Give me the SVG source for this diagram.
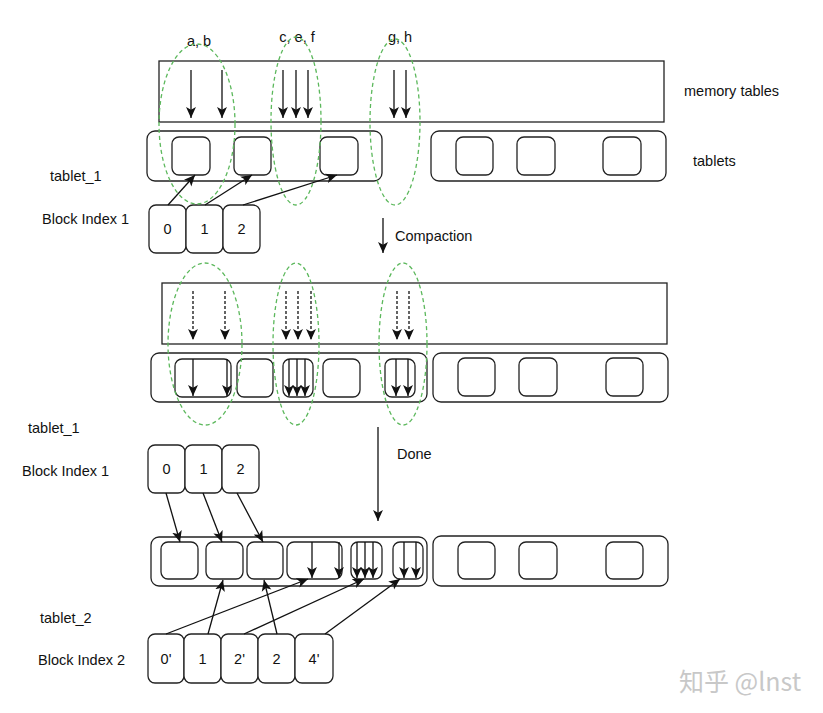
<svg xmlns="http://www.w3.org/2000/svg" width="823" height="713" viewBox="0 0 823 713">
<defs>
<style>
text{font-family:"Liberation Sans",Arial,sans-serif;font-size:14.5px;fill:#111}
.c{text-anchor:middle}
.box{fill:#fff;stroke:#222;stroke-width:1.3}
.bg{fill:none;stroke:#222;stroke-width:1.3}
.ell{fill:none;stroke:#5cb85c;stroke-width:1.3;stroke-dasharray:4 3}
.ar{stroke:#111;stroke-width:1.3;fill:none;marker-end:url(#ah)}
.ard{stroke:#111;stroke-width:1.3;fill:none;stroke-dasharray:3 2;marker-end:url(#ah)}
</style>
<marker id="ah" viewBox="0 0 10 10" refX="10" refY="5" markerWidth="11" markerHeight="11" markerUnits="userSpaceOnUse" orient="auto">
<path d="M0,0.5 L10,5 L0,9.5 L2.5,5 z" fill="#111"/>
</marker>
</defs>
<rect width="823" height="713" fill="#fff"/>

<!-- Section 1 -->
<g id="memtable1"><rect class="bg" x="159" y="61" width="505" height="61"/></g>
<g id="tablet1a">
<rect class="bg" x="147" y="131" width="235" height="50" rx="8"/>
<rect class="box" x="172" y="137" width="38" height="38" rx="7"/>
<rect class="box" x="234" y="137" width="37" height="38" rx="7"/>
<rect class="box" x="320" y="137" width="38" height="38" rx="7"/>
</g>
<g id="tablet1b">
<rect class="bg" x="431" y="131" width="235" height="50" rx="8"/>
<rect class="box" x="456" y="137" width="37" height="38" rx="7"/>
<rect class="box" x="517" y="137" width="38" height="38" rx="7"/>
<rect class="box" x="603" y="137" width="38" height="38" rx="7"/>
</g>
<g id="index1a">
<rect class="box" x="149" y="205" width="37" height="48" rx="7"/>
<rect class="box" x="186" y="205" width="37" height="48" rx="7"/>
<rect class="box" x="223" y="205" width="37" height="48" rx="7"/>
<text class="c" x="167.5" y="234">0</text>
<text class="c" x="204.5" y="234">1</text>
<text class="c" x="241.5" y="234">2</text>
</g>
<g id="labels1">
<text class="c" x="199" y="46">a, b</text>
<text class="c" x="297" y="42">c, e, f</text>
<text class="c" x="400" y="42">g, h</text>
<text x="684" y="96">memory tables</text>
<text x="693" y="166">tablets</text>
<text x="50" y="181">tablet_1</text>
<text x="42" y="224">Block Index 1</text>
<text x="395" y="241">Compaction</text>
</g>
<g id="ellipses1">
<ellipse class="ell" cx="197" cy="124" rx="38" ry="80"/>
<ellipse class="ell" cx="296" cy="121" rx="25" ry="84"/>
<ellipse class="ell" cx="395" cy="122" rx="25" ry="83"/>
</g>

<!-- Section 2 -->
<g id="memtable2"><rect class="bg" x="162" y="283" width="505" height="61"/></g>
<g id="tablet2a">
<rect class="bg" x="151" y="353" width="276" height="49" rx="8"/>
<rect class="box" x="175" y="359" width="56" height="38" rx="7"/>
<rect class="box" x="237" y="359" width="36" height="38" rx="7"/>
<rect class="box" x="283" y="359" width="30" height="38" rx="7"/>
<rect class="box" x="323" y="359" width="37" height="38" rx="7"/>
<rect class="box" x="385" y="359" width="30" height="38" rx="7"/>
</g>
<g id="tablet2b">
<rect class="bg" x="433" y="353" width="235" height="49" rx="8"/>
<rect class="box" x="458" y="358" width="37" height="38" rx="7"/>
<rect class="box" x="519" y="358" width="38" height="38" rx="7"/>
<rect class="box" x="606" y="358" width="37" height="38" rx="7"/>
</g>
<g id="labels2">
<text x="28" y="433">tablet_1</text>
<text x="22" y="476">Block Index 1</text>
<text x="397" y="459">Done</text>
</g>
<g id="ellipses2">
<ellipse class="ell" cx="205" cy="344" rx="37" ry="81"/>
<ellipse class="ell" cx="296" cy="344" rx="23" ry="81"/>
<ellipse class="ell" cx="403" cy="344" rx="24" ry="81"/>
</g>

<!-- Section 3 -->
<g id="index1b">
<rect class="box" x="148" y="445" width="37" height="48" rx="7"/>
<rect class="box" x="185" y="445" width="37" height="48" rx="7"/>
<rect class="box" x="222" y="445" width="37" height="48" rx="7"/>
<text class="c" x="166.5" y="474">0</text>
<text class="c" x="203.5" y="474">1</text>
<text class="c" x="240.5" y="474">2</text>
</g>
<g id="tablet3a">
<rect class="bg" x="151" y="537" width="276" height="49" rx="8"/>
<rect class="box" x="161" y="542" width="37" height="37" rx="7"/>
<rect class="box" x="206" y="542" width="37" height="37" rx="7"/>
<rect class="box" x="247" y="542" width="36" height="37" rx="7"/>
<rect class="box" x="287" y="542" width="55" height="37" rx="7"/>
<rect class="box" x="351" y="542" width="31" height="37" rx="7"/>
<rect class="box" x="393" y="542" width="30" height="37" rx="7"/>
</g>
<g id="tablet3b">
<rect class="bg" x="433" y="536" width="235" height="50" rx="8"/>
<rect class="box" x="458" y="542" width="37" height="37" rx="7"/>
<rect class="box" x="519" y="542" width="38" height="37" rx="7"/>
<rect class="box" x="606" y="542" width="37" height="37" rx="7"/>
</g>
<g id="index2">
<rect class="box" x="148" y="634" width="36" height="49" rx="7"/>
<rect class="box" x="184" y="634" width="37" height="49" rx="7"/>
<rect class="box" x="221" y="634" width="37" height="49" rx="7"/>
<rect class="box" x="258" y="634" width="37" height="49" rx="7"/>
<rect class="box" x="295" y="634" width="38" height="49" rx="7"/>
<text class="c" x="166" y="664">0'</text>
<text class="c" x="202.5" y="664">1</text>
<text class="c" x="239.5" y="664">2'</text>
<text class="c" x="276.5" y="664">2</text>
<text class="c" x="314" y="664">4'</text>
</g>
<g id="labels3">
<text x="679" y="691" style="font-family:'Noto Sans CJK SC','Noto Sans',sans-serif;font-size:25px;fill:#c8c8c8">知乎 @lnst</text>
<text x="40" y="623">tablet_2</text>
<text x="38" y="665">Block Index 2</text>
</g>

<g id="connectors">
<!-- section 1 -->
<line class="ar" x1="191" y1="70" x2="191" y2="118"/>
<line class="ar" x1="222" y1="70" x2="222" y2="118"/>
<line class="ar" x1="283" y1="70" x2="283" y2="118"/>
<line class="ar" x1="296" y1="70" x2="296" y2="118"/>
<line class="ar" x1="308" y1="70" x2="308" y2="118"/>
<line class="ar" x1="394" y1="70" x2="394" y2="118"/>
<line class="ar" x1="406" y1="70" x2="406" y2="118"/>
<line class="ar" x1="168" y1="205" x2="195" y2="175"/>
<line class="ar" x1="205" y1="205" x2="252" y2="175"/>
<line class="ar" x1="243" y1="205" x2="337" y2="175"/>
<line class="ar" x1="383" y1="218" x2="383" y2="253"/>
<!-- section 2 -->
<line class="ard" x1="193" y1="291" x2="193" y2="340"/>
<line class="ard" x1="225" y1="291" x2="225" y2="340"/>
<line class="ard" x1="286" y1="291" x2="286" y2="340"/>
<line class="ard" x1="298" y1="291" x2="298" y2="340"/>
<line class="ard" x1="311" y1="291" x2="311" y2="340"/>
<line class="ard" x1="397" y1="291" x2="397" y2="340"/>
<line class="ard" x1="409" y1="291" x2="409" y2="340"/>
<line class="ar" x1="193" y1="359" x2="193" y2="396"/>
<line class="ar" x1="227" y1="359" x2="227" y2="396"/>
<line class="ar" x1="289" y1="359" x2="289" y2="396"/>
<line class="ar" x1="297" y1="359" x2="297" y2="396"/>
<line class="ar" x1="305" y1="359" x2="305" y2="396"/>
<line class="ar" x1="396" y1="359" x2="396" y2="396"/>
<line class="ar" x1="408" y1="359" x2="408" y2="396"/>
<line class="ar" x1="378" y1="427" x2="378" y2="521"/>
<!-- section 3 -->
<line class="ar" x1="166" y1="493" x2="180" y2="542"/>
<line class="ar" x1="203" y1="493" x2="222" y2="542"/>
<line class="ar" x1="237" y1="493" x2="263" y2="542"/>
<line class="ar" x1="312" y1="542" x2="312" y2="578"/>
<line class="ar" x1="339" y1="542" x2="339" y2="578"/>
<line class="ar" x1="357" y1="542" x2="357" y2="578"/>
<line class="ar" x1="365" y1="542" x2="365" y2="578"/>
<line class="ar" x1="373" y1="542" x2="373" y2="578"/>
<line class="ar" x1="404" y1="542" x2="404" y2="578"/>
<line class="ar" x1="416" y1="542" x2="416" y2="578"/>
<line class="ar" x1="208" y1="634" x2="223" y2="580"/>
<line class="ar" x1="277" y1="634" x2="264" y2="580"/>
<line class="ar" x1="166" y1="634" x2="308" y2="579"/>
<line class="ar" x1="244" y1="634" x2="364" y2="579"/>
<line class="ar" x1="325" y1="634" x2="400" y2="579"/>
</g>
</svg>
